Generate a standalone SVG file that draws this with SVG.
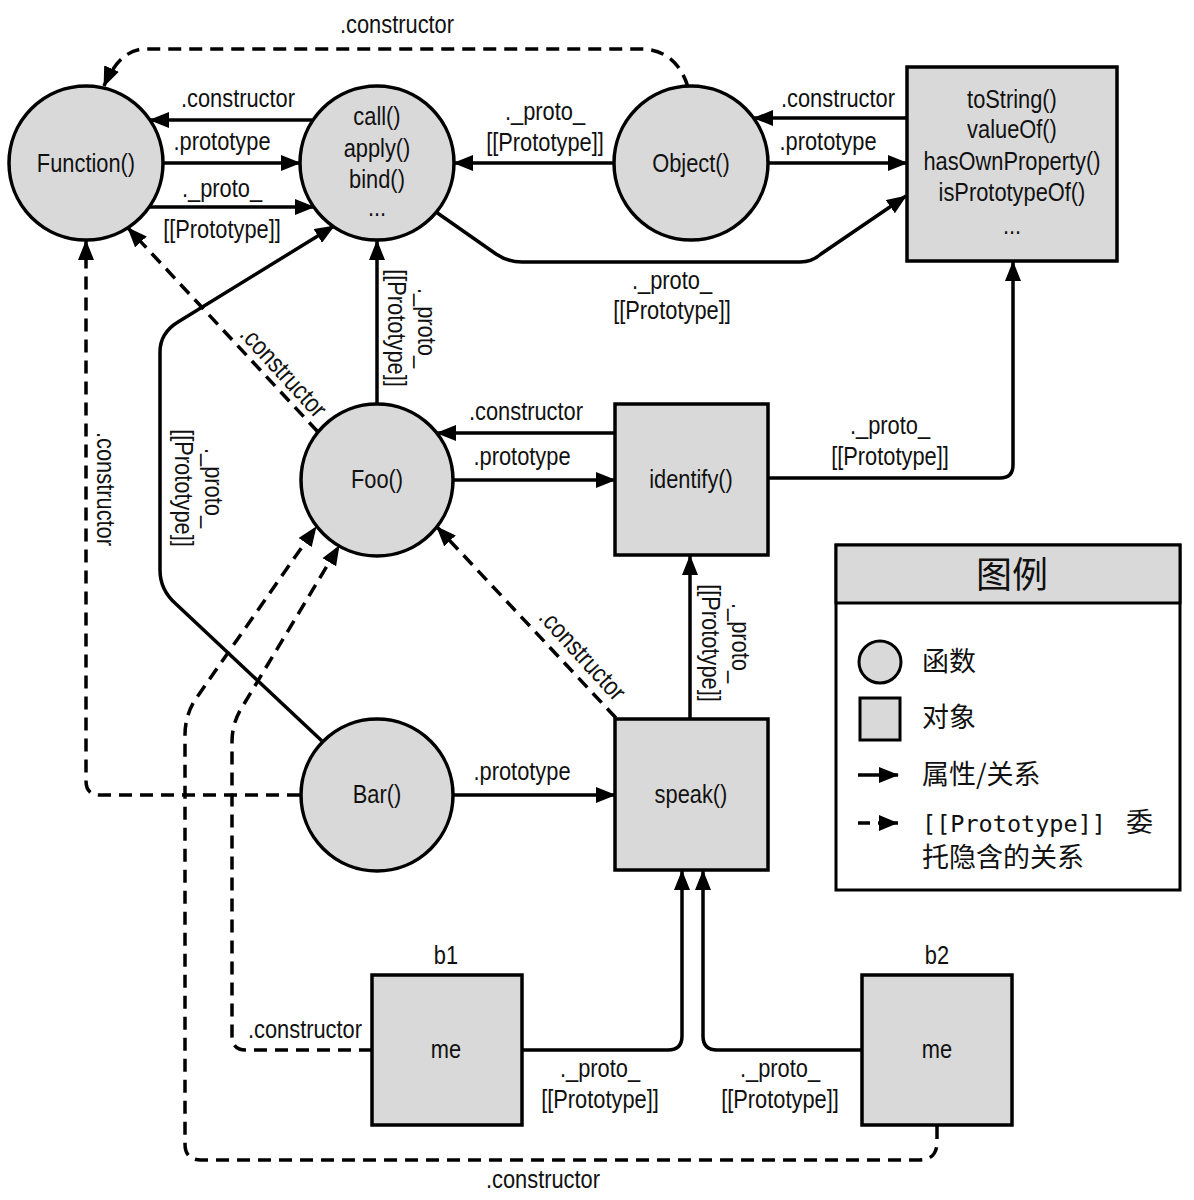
<svg xmlns="http://www.w3.org/2000/svg" width="1194" height="1200" viewBox="0 0 1194 1200">
<style>
.node{fill:#d9d9d9;stroke:#000;stroke-width:3.5}
.c{fill:none;stroke:#000;stroke-width:3.5}
.d{fill:none;stroke:#000;stroke-width:3.5;stroke-dasharray:13 8}
text{font-family:"Liberation Sans",Arial,sans-serif;font-size:26px;fill:#111;text-anchor:middle;transform-box:fill-box;transform-origin:center;transform:scaleX(0.84)}
text.cjk,text.mono,text.title{transform:none}
.cjk{font-family:"Noto Sans CJK SC",sans-serif;text-anchor:start;font-size:27px}
.mono{font-family:"DejaVu Sans Mono","Noto Sans CJK SC",monospace;text-anchor:start;font-size:23.5px}
.title{font-family:"Noto Sans CJK SC",sans-serif;font-size:36px}
</style>
<defs>
<marker id="ah" viewBox="0 0 20 16" refX="19" refY="8" markerWidth="20" markerHeight="16" orient="auto" markerUnits="userSpaceOnUse"><path d="M0,0 L20,8 L0,16 z" fill="#000"/></marker>
</defs>
<rect width="1194" height="1200" fill="#fff"/>

<g id="connectors">
<path class="d" d="M688,87 Q676,49 640,49 L145,49 Q120,49 104,86" marker-end="url(#ah)"/>
<path class="c" d="M313,120 L150,120" marker-end="url(#ah)"/>
<path class="c" d="M163,163 L300,163" marker-end="url(#ah)"/>
<path class="c" d="M149,207 L314,207" marker-end="url(#ah)"/>
<path class="c" d="M614,163 L454,163" marker-end="url(#ah)"/>
<path class="c" d="M907,118 L754,118" marker-end="url(#ah)"/>
<path class="c" d="M768,163 L907,163" marker-end="url(#ah)"/>
<path class="c" d="M436,212 L496,254 Q508,262 522,262 L800,262 Q812,262 821,254 L906,196" marker-end="url(#ah)"/>
<path class="c" d="M377,404 L377,241" marker-end="url(#ah)"/>
<path class="d" d="M318,432 L128,228" marker-end="url(#ah)"/>
<path class="c" d="M322,741 L176,604 Q160,590 160,570 L160,352 Q160,333 178,322 L334,226" marker-end="url(#ah)"/>
<path class="d" d="M300,795 L100,795 Q86,795 86,781 L86,241" marker-end="url(#ah)"/>
<path class="c" d="M453,480 L615,480" marker-end="url(#ah)"/>
<path class="c" d="M615,433 L437,433" marker-end="url(#ah)"/>
<path class="c" d="M768,478 L1000,478 Q1013,478 1013,465 L1013,262" marker-end="url(#ah)"/>
<path class="c" d="M690,719 L690,556" marker-end="url(#ah)"/>
<path class="d" d="M616,718 L437,527" marker-end="url(#ah)"/>
<path class="c" d="M453,795 L615,795" marker-end="url(#ah)"/>
<path class="c" d="M522,1050 L668,1050 Q682,1050 682,1036 L682,871" marker-end="url(#ah)"/>
<path class="c" d="M862,1050 L717,1050 Q703,1050 703,1036 L703,871" marker-end="url(#ah)"/>
<path class="d" d="M372,1050 L246,1050 Q232,1050 232,1036 L232,742 Q232,724 241,709 L339,546" marker-end="url(#ah)"/>
<path class="d" d="M937,1126 L937,1142 Q937,1160 919,1160 L201,1160 Q185,1160 185,1144 L185,735 Q185,716 195,700 L316,527" marker-end="url(#ah)"/>
</g>

<g id="labels">
<text x="397" y="33">.constructor</text>
<text x="238" y="107">.constructor</text>
<text x="222" y="150">.prototype</text>
<text x="222" y="197">._proto_</text>
<text x="222" y="238">[[Prototype]]</text>
<text x="545" y="120">._proto_</text>
<text x="545" y="151">[[Prototype]]</text>
<text x="838" y="107">.constructor</text>
<text x="828" y="150">.prototype</text>
<text x="672" y="289">._proto_</text>
<text x="672" y="319">[[Prototype]]</text>
<g transform="translate(411,328) rotate(90)"><text x="0" y="-7">._proto_</text><text x="0" y="23">[[Prototype]]</text></g>
<g transform="translate(198,488) rotate(90)"><text x="0" y="-7">._proto_</text><text x="0" y="23">[[Prototype]]</text></g>
<g transform="translate(105,489) rotate(90)"><text x="0" y="8">.constructor</text></g>
<g transform="translate(283,372) rotate(47.5)"><text x="0" y="8">.constructor</text></g>
<g transform="translate(582,655) rotate(47.5)"><text x="0" y="8">.constructor</text></g>
<g transform="translate(725,643) rotate(90)"><text x="0" y="-7">._proto_</text><text x="0" y="23">[[Prototype]]</text></g>
<text x="526" y="420">.constructor</text>
<text x="522" y="465">.prototype</text>
<text x="890" y="434">._proto_</text>
<text x="890" y="465">[[Prototype]]</text>
<text x="522" y="780">.prototype</text>
<text x="305" y="1038">.constructor</text>
<text x="600" y="1077">._proto_</text>
<text x="600" y="1108">[[Prototype]]</text>
<text x="780" y="1077">._proto_</text>
<text x="780" y="1108">[[Prototype]]</text>
<text x="543" y="1188">.constructor</text>
</g>

<g id="Function">
<circle class="node" cx="86" cy="163" r="77"/>
<text x="86" y="172">Function()</text>
</g>
<g id="FunctionPrototype">
<circle class="node" cx="377" cy="163" r="77"/>
<text x="377" y="125">call()</text>
<text x="377" y="157">apply()</text>
<text x="377" y="188">bind()</text>
<text x="377" y="216">...</text>
</g>
<g id="Object">
<circle class="node" cx="691" cy="163" r="77"/>
<text x="691" y="172">Object()</text>
</g>
<g id="ObjectPrototype">
<rect class="node" x="907" y="67" width="210" height="194"/>
<text x="1012" y="108">toString()</text>
<text x="1012" y="138">valueOf()</text>
<text x="1012" y="170">hasOwnProperty()</text>
<text x="1012" y="201">isPrototypeOf()</text>
<text x="1012" y="234">...</text>
</g>
<g id="Foo">
<circle class="node" cx="377" cy="480" r="76"/>
<text x="377" y="488">Foo()</text>
</g>
<g id="identify">
<rect class="node" x="615" y="404" width="153" height="151"/>
<text x="691" y="488">identify()</text>
</g>
<g id="Bar">
<circle class="node" cx="377" cy="795" r="76"/>
<text x="377" y="803">Bar()</text>
</g>
<g id="speak">
<rect class="node" x="615" y="719" width="153" height="151"/>
<text x="691" y="803">speak()</text>
</g>
<g id="b1">
<text x="446" y="964">b1</text>
<rect class="node" x="372" y="975" width="150" height="150"/>
<text x="446" y="1058">me</text>
</g>
<g id="b2">
<text x="937" y="964">b2</text>
<rect class="node" x="862" y="975" width="150" height="150"/>
<text x="937" y="1058">me</text>
</g>

<g id="legend">
<rect x="836" y="545" width="344" height="345" fill="#fff" stroke="#000" stroke-width="3"/>
<rect x="836" y="545" width="344" height="58" fill="#d9d9d9" stroke="#000" stroke-width="3"/>
<text class="title" x="1012" y="588">图例</text>
<circle cx="880" cy="662" r="21" fill="#d9d9d9" stroke="#000" stroke-width="3"/>
<rect x="860" y="698" width="40" height="42" fill="#d9d9d9" stroke="#000" stroke-width="3"/>
<path d="M858,775 L898,775" stroke="#000" stroke-width="3.5" marker-end="url(#ah)"/>
<path d="M858,823 L870,823 M878,823 L898,823" stroke="#000" stroke-width="3.5"/>
<path d="M879,815 L898,823 L879,831 z" fill="#000"/>
<text class="cjk" x="922" y="671">函数</text>
<text class="cjk" x="922" y="727">对象</text>
<text class="cjk" x="922" y="784">属性/关系</text>
<text class="mono" x="922" y="832">[[Prototype]] <tspan x="1126" style="font-family:'Noto Sans CJK SC',sans-serif;font-size:27px">委</tspan></text>
<text class="cjk" x="922" y="867">托隐含的关系</text>
</g>
</svg>
